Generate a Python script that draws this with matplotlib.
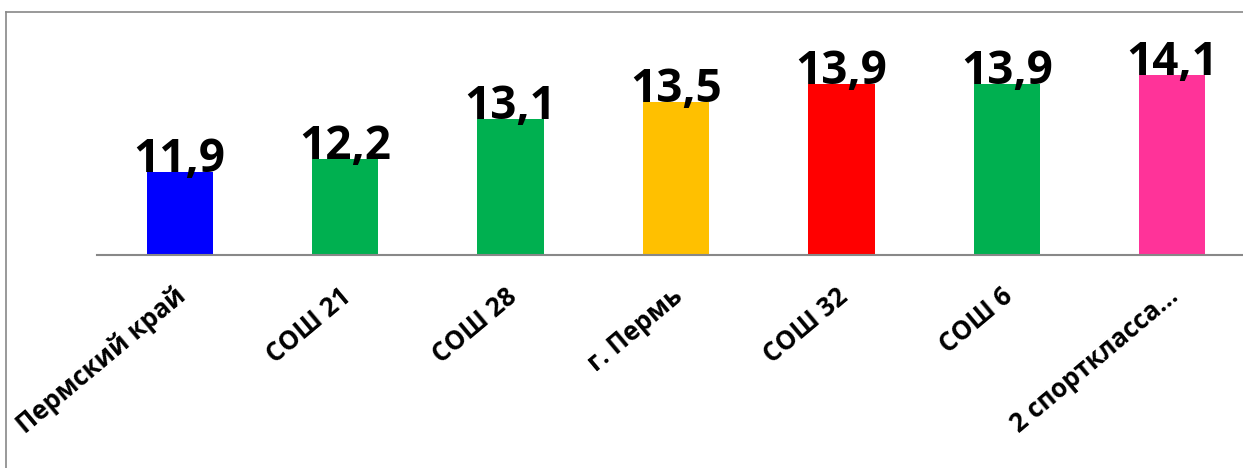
import matplotlib.pyplot as plt
import matplotlib.transforms as mtransforms
from matplotlib.lines import Line2D

categories = ['Пермский край', 'СОШ 21', 'СОШ 28', 'г. Пермь', 'СОШ 32', 'СОШ 6', '2 спорткласса...']
values = [11.9, 12.2, 13.1, 13.5, 13.9, 13.9, 14.1]
colors = ['#0000FF', '#00B050', '#00B050', '#FFC000', '#FF0000', '#00B050', '#FF3399']

plt.rcParams['font.family'] = ['Open Sans', 'DejaVu Sans']

W, H = 1243, 468
fig = plt.figure(figsize=(W / 100, H / 100), dpi=100)

# plot area: baseline at y=255 px, left edge at x=97 px
ax = fig.add_axes([97 / W, (H - 255) / H, (W - 97) / W, 241 / H])

x = range(len(values))
ax.bar(x, values, width=0.4, color=colors, bottom=0)
ax.set_ylim(10, 10 + 241 / 43.8)
ax.set_xlim(-0.5, 6.5 - 12 / 165.3)

for xi, v in zip(x, values):
    ax.text(xi, v, f'{v:.1f}'.replace('.', ','), ha='center', va='baseline',
            fontsize=33, fontweight='bold', color='black')

ax.set_yticks([])
ax.set_xticks(list(x))
ax.set_xticklabels(categories, rotation=40, ha='right', rotation_mode='anchor',
                   fontsize=18.5, fontweight='bold')
ax.tick_params(axis='x', length=0, pad=20)

# nudge category labels a little to the left
shift = mtransforms.ScaledTranslation(-0.06, 0, fig.dpi_scale_trans)
for lbl in ax.get_xticklabels():
    lbl.set_transform(lbl.get_transform() + shift)

for side in ['top', 'right', 'left']:
    ax.spines[side].set_visible(False)
ax.spines['bottom'].set_color('#888888')
ax.spines['bottom'].set_linewidth(1.5)

# outer chart border (left and top edges visible)
fig.add_artist(Line2D([6 / W, 6 / W], [0, (H - 12) / H], color='#888888', lw=1.2))
fig.add_artist(Line2D([6 / W, 1], [(H - 12) / H, (H - 12) / H], color='#888888', lw=1.2))

fig.savefig('out.png', dpi=100)
